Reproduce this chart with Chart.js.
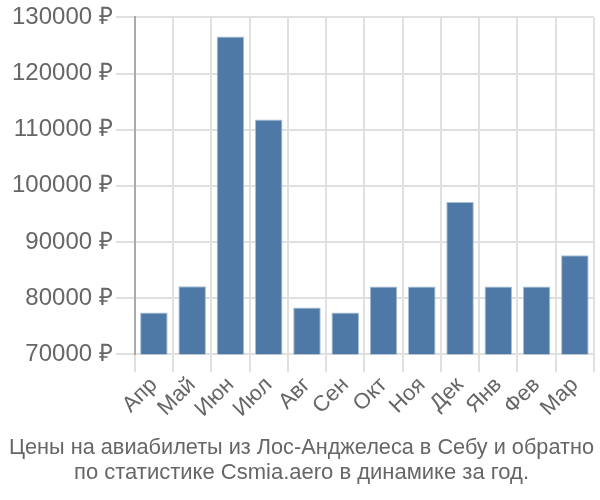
<!DOCTYPE html>
<html>
<head>
<meta charset="utf-8">
<script src="https://cdn.jsdelivr.net/npm/chart.js@4/dist/chart.umd.min.js"></script>
<style>
  html, body { margin: 0; padding: 0; background: #fff; }
  #wrap { width: 600px; height: 500px; }
</style>
</head>
<body>
<div id="wrap"><canvas id="chart"></canvas></div>
<script>
// Цены по месяцам, руб.
const months = ["Апр", "Май", "Июн", "Июл", "Авг", "Сен", "Окт", "Ноя", "Дек", "Янв", "Фев", "Мар"];
const prices = [77400, 82100, 126600, 111800, 78300, 77400, 82050, 82050, 97100, 82050, 82050, 87600];
const yTicks = [70000, 80000, 90000, 100000, 110000, 120000, 130000];
const titleLines = [
  "Цены на авиабилеты из Лос-Анджелеса в Себу и обратно",
  "по статистике Csmia.aero в динамике за год.",
];

const FONT = "'Liberation Sans', Arial, sans-serif";

new Chart(document.getElementById("chart"), {
  type: "bar",
  data: {
    labels: months,
    datasets: [{
      data: prices,
      backgroundColor: "#4e78a6",
      borderColor: "#a9bfd8",
      borderWidth: 1,
      barPercentage: 0.72,
      categoryPercentage: 1,
    }],
  },
  options: {
    responsive: true,
    maintainAspectRatio: false,
    animation: false,
    layout: { padding: { top: 0, right: 6, left: 9, bottom: 14 } },
    plugins: {
      legend: { display: false },
      tooltip: { enabled: false },
      title: {
        display: true,
        position: "bottom",
        text: titleLines,
        color: "#666",
        font: { family: FONT, size: 22, weight: "normal", lineHeight: 1.15 },
        padding: { top: 13, bottom: 0 },
      },
    },
    scales: {
      x: {
        grid: { color: "#e0e0e0", lineWidth: 2, offset: true, tickLength: 18 },
        border: { color: "#e0e0e0", width: 2 },
        ticks: {
          color: "#666",
          font: { family: FONT, size: 22 },
          autoSkip: false,
          maxRotation: 45,
          minRotation: 45,
          padding: 0,
        },
      },
      y: {
        min: yTicks[0],
        max: yTicks[yTicks.length - 1],
        afterBuildTicks: axis => { axis.ticks = yTicks.map(v => ({ value: v })); },
        grid: { color: "#e0e0e0", lineWidth: 2, tickLength: 19 },
        border: { color: "#aaa", width: 2 },
        ticks: {
          color: "#666",
          font: { family: FONT, size: 24 },
          padding: 3,
          callback: v => v + " ₽",
        },
      },
    },
  },
});
</script>
</body>
</html>
